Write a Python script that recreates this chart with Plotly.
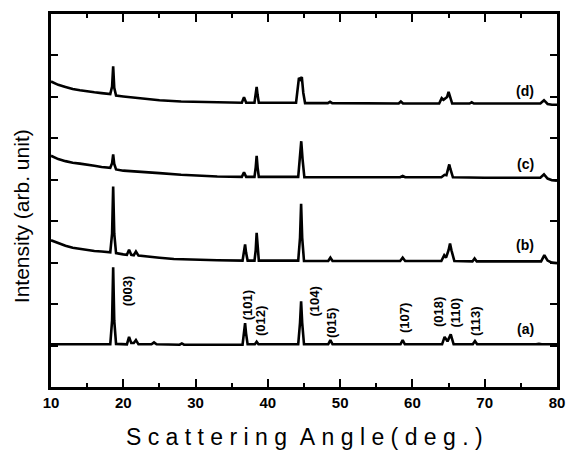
import plotly.graph_objects as go

# ---- data ----
xa = [10, 14, 18.2, 18.45, 18.6, 18.75, 19.0, 20.5, 20.8, 21.1, 21.45, 21.75, 22.1,
      23.9, 24.25, 24.6, 27.8, 28.1, 28.4, 36.5, 36.72, 36.85, 36.98, 37.2,
      38.2, 38.45, 38.7, 44.2, 44.45, 44.6, 44.75, 45.0, 48.35, 48.65, 48.95,
      58.35, 58.65, 58.95, 64.1, 64.45, 64.85, 65.3, 65.7, 68.35, 68.65, 68.95,
      77.1, 77.5, 77.9, 80]
ya = [1.03, 1.03, 1.03, 1.6, 2.89, 1.6, 1.04, 1.03, 1.21, 1.06, 1.06, 1.13, 1.03,
      1.03, 1.075, 1.03, 1.02, 1.05, 1.02, 1.02, 1.3, 1.54, 1.3, 1.03,
      1.03, 1.09, 1.03, 1.03, 1.55, 2.07, 1.55, 1.03, 1.03, 1.13, 1.03,
      1.03, 1.13, 1.03, 1.03, 1.21, 1.1, 1.27, 1.03, 1.03, 1.11, 1.03,
      1.03, 1.04, 1.03, 1.03]

xb = [10, 11, 12, 13, 14, 15, 16, 17, 18.2, 18.45, 18.6, 18.75, 19.0,
      20, 20.5, 20.8, 21.1, 21.45, 21.75, 22.1, 23, 25, 27, 30, 33,
      36.5, 36.72, 36.85, 36.98, 37.2, 38.15, 38.32, 38.45, 38.58, 38.75,
      44.2, 44.45, 44.6, 44.75, 45.0, 48.35, 48.65, 48.95, 58.3, 58.65, 59.0,
      64.0, 64.4, 64.65, 65.0, 65.2, 65.4, 65.8, 68.3, 68.6, 68.9,
      77.8, 78.25, 78.7, 79.3, 80]
yb = [3.54, 3.47, 3.41, 3.36, 3.33, 3.30, 3.28, 3.27, 3.25, 3.7, 4.84, 3.7, 3.23,
      3.20, 3.19, 3.31, 3.19, 3.18, 3.27, 3.17, 3.15, 3.12, 3.09, 3.07, 3.06,
      3.05, 3.25, 3.44, 3.25, 3.05, 3.05, 3.3, 3.72, 3.3, 3.05,
      3.05, 3.6, 4.42, 3.6, 3.04, 3.04, 3.12, 3.04, 3.04, 3.12, 3.04,
      3.04, 3.18, 3.12, 3.3, 3.46, 3.3, 3.04, 3.03, 3.10, 3.03,
      3.03, 3.18, 3.05, 3.00, 2.99]

xc = [10, 11, 12, 13, 14, 15, 16, 17, 18.2, 18.45, 18.6, 18.75, 19.0,
      20, 22, 25, 28, 30, 33, 36.4, 36.7, 37.0, 38.15, 38.32, 38.45, 38.58, 38.75,
      44.2, 44.45, 44.62, 44.8, 45.05, 50, 58.3, 58.65, 59.0,
      64.0, 64.45, 64.7, 64.95, 65.1, 65.25, 65.6, 70, 77.7, 78.2, 78.7, 79.3, 80]
yc = [5.58, 5.50, 5.45, 5.41, 5.39, 5.37, 5.34, 5.31, 5.29, 5.40, 5.61, 5.38, 5.25,
      5.22, 5.19, 5.16, 5.12, 5.10, 5.08, 5.07, 5.18, 5.07, 5.07, 5.3, 5.58, 5.3, 5.07,
      5.07, 5.5, 5.93, 5.5, 5.06, 5.06, 5.06, 5.09, 5.06,
      5.06, 5.12, 5.11, 5.26, 5.37, 5.26, 5.06, 5.05, 5.05, 5.13, 5.03, 4.99, 4.98]

xd = [10, 11, 12, 13, 14, 15, 16, 17, 18.2, 18.45, 18.6, 18.75, 19.0,
      20, 22, 25, 28, 30, 33, 36.4, 36.7, 37.0, 38.15, 38.32, 38.45, 38.58, 38.75,
      43.9, 44.1, 44.3, 44.5, 44.7, 44.9, 45.15, 48.3, 48.6, 48.9, 58.1, 58.4, 58.7,
      63.7, 64.05, 64.3, 64.8, 65.0, 65.2, 65.5, 67.9, 68.2, 68.5,
      77.7, 78.2, 78.7, 79.3, 80]
yd = [7.37, 7.29, 7.24, 7.19, 7.16, 7.13, 7.11, 7.09, 7.07, 7.25, 7.74, 7.22, 7.03,
      7.01, 6.97, 6.92, 6.89, 6.88, 6.87, 6.86, 6.99, 6.86, 6.86, 7.05, 7.24, 7.05, 6.86,
      6.86, 7.1, 7.46, 7.42, 7.48, 7.1, 6.85, 6.85, 6.88, 6.85, 6.84, 6.89, 6.84,
      6.84, 6.97, 6.93, 7.0, 7.12, 7.0, 6.84, 6.84, 6.87, 6.84,
      6.84, 6.92, 6.83, 6.81, 6.81]

curve_names = ["(a)", "(b)", "(c)", "(d)"]
curve_label_x = [75.6, 75.6, 75.6, 75.6]
curve_label_y = [1.39, 3.42, 5.37, 7.15]

peak_names = ["(003)", "(101)", "(012)", "(104)", "(015)", "(107)", "(018)", "(110)", "(113)"]
peak_label_x = [20.5, 37.1, 38.9, 46.5, 48.9, 59.0, 63.6, 66.0, 68.65]
peak_label_y = [2.31, 1.97, 1.59, 2.06, 1.55, 1.67, 1.82, 1.79, 1.59]

x_ticks = [10, 20, 30, 40, 50, 60, 70, 80]
y_ticks = [1, 2, 3, 4, 5, 6, 7, 8]

FONT = "Liberation Sans, Arial, Helvetica, sans-serif"

fig = go.Figure()
for xs, ys in [(xa, ya), (xb, yb), (xc, yc), (xd, yd)]:
    fig.add_trace(go.Scatter(x=xs, y=ys, mode="lines",
                             line=dict(color="black", width=2.6),
                             showlegend=False, hoverinfo="skip"))

for name, lx, ly in zip(curve_names, curve_label_x, curve_label_y):
    fig.add_annotation(x=lx, y=ly, xref="x", yref="y", text=name, showarrow=False,
                       font=dict(family=FONT, size=14, color="black", weight="bold"))

for name, lx, ly in zip(peak_names, peak_label_x, peak_label_y):
    fig.add_annotation(x=lx, y=ly, xref="x", yref="y", text=name, showarrow=False,
                       textangle=-90,
                       font=dict(family=FONT, size=13, color="black", weight="bold"))

fig.add_annotation(x=-0.058, y=0.457, xref="paper", yref="paper",
                   text="Intensity (arb. unit)", showarrow=False, textangle=-90,
                   xanchor="center", yanchor="middle",
                   font=dict(family=FONT, size=21, color="black"))

xt = "\u00a0".join(list("Scattering")) + "\u00a0\u00a0" + "\u00a0".join(list("Angle(deg.)"))
fig.add_annotation(x=0.5, y=-0.134, xref="paper", yref="paper",
                   text=xt, showarrow=False, xanchor="center", yanchor="middle",
                   font=dict(family=FONT, size=23, color="black"))

fig.update_xaxes(range=[10, 80], tickvals=x_ticks, ticks="inside", ticklen=8, tickwidth=2,
                 tickcolor="black", showline=True, linecolor="black", linewidth=2.6,
                 mirror="allticks", showgrid=False, zeroline=False, automargin=False,
                 tickfont=dict(family=FONT, size=15, color="black", weight="bold"),
                 minor=dict(dtick=5, tick0=0, ticks="inside", ticklen=4, tickwidth=2,
                            tickcolor="black", showgrid=False))
fig.update_yaxes(range=[0, 9], tickvals=y_ticks, ticks="inside", ticklen=7, tickwidth=2,
                 tickcolor="black", showline=True, linecolor="black", linewidth=2.6,
                 mirror="allticks", showgrid=False, zeroline=False, showticklabels=False,
                 automargin=False)

fig.update_layout(width=569, height=450, margin=dict(l=51, r=12, t=14, b=63),
                  paper_bgcolor="white", plot_bgcolor="white")

fig.write_html("out.html")
